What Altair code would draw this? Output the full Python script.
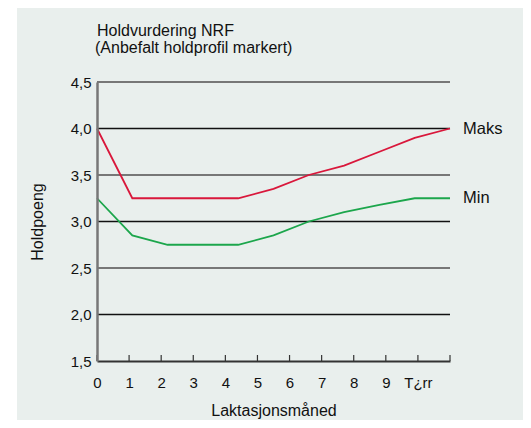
import altair as alt
import pandas as pd

# ---- data ----
months = [0.0, 1.1, 2.2, 3.3, 4.4, 5.5, 6.6, 7.7, 8.8, 9.9, 11.0]
maks = [4.0, 3.25, 3.25, 3.25, 3.25, 3.35, 3.5, 3.6, 3.75, 3.9, 4.0]
mins = [3.25, 2.85, 2.75, 2.75, 2.75, 2.85, 3.0, 3.1, 3.18, 3.25, 3.25]
series_names = ["Maks", "Min"]
series_colors = ["#D9173B", "#1CA64C"]

x_ticks = list(range(12))
x_tick_labels = ["0", "1", "2", "3", "4", "5", "6", "7", "8", "9", "T¿rr", ""]
y_grid = [2.0, 2.5, 3.0, 3.5, 4.0, 4.5]
y_ticks = [1.5, 2.0, 2.5, 3.0, 3.5, 4.0, 4.5]

title_lines = ["Holdvurdering NRF", "(Anbefalt holdprofil markert)"]
x_title = "Laktasjonsmåned"
y_title = "Holdpoeng"

FONT = "Liberation Sans"
BG = "#E9EFED"
W, H = 353, 279
PAD_R, PAD_B = 73, 59

rows = []
for name, vals in zip(series_names, [maks, mins]):
    for m, v in zip(months, vals):
        rows.append({"month": m, "value": v, "series": name})
df = pd.DataFrame(rows)
df_end = pd.DataFrame([
    {"month": months[-1], "value": maks[-1], "series": series_names[0]},
    {"month": months[-1], "value": mins[-1], "series": series_names[1]},
])
df_grid = pd.DataFrame({"value": y_grid})
df_ticks = pd.DataFrame({"month": x_ticks})
df_one = pd.DataFrame({"a": [0]})

xscale = alt.Scale(domain=[0, 11], nice=False, zero=False)
yscale = alt.Scale(domain=[1.5, 4.5], nice=False, zero=False)
cscale = alt.Scale(domain=series_names, range=series_colors)

label_expr_x = "[" + ",".join("'" + s + "'" for s in x_tick_labels) + "][datum.value]"

xaxis = alt.Axis(values=x_ticks, labelExpr=label_expr_x, ticks=False,
                 grid=False, domainColor="#333333", domainWidth=2, zindex=1,
                 labelFont=FONT, labelFontSize=15, labelColor="#111111",
                 labelPadding=14, labelFlush=False, labelOverlap=False,
                 title=x_title, titleFont=FONT, titleFontSize=16,
                 titleFontWeight="normal", titleColor="#111111",
                 titlePadding=12)
yaxis = alt.Axis(values=y_ticks,
                 labelExpr="replace(format(datum.value, '.1f'), '.', ',')",
                 ticks=False, grid=False, domainColor="#777777", domainWidth=2.5, zindex=1,
                 labelFont=FONT, labelFontSize=15, labelColor="#111111",
                 labelPadding=6, labelFlush=False, labelOverlap=False,
                 title=y_title, titleFont=FONT, titleFontSize=16,
                 titleFontWeight="normal", titleColor="#111111",
                 titlePadding=25)

X = alt.X("month:Q", scale=xscale, axis=xaxis)
Y = alt.Y("value:Q", scale=yscale, axis=yaxis)

bg = alt.Chart(df_one).mark_rect(color=BG).encode(
    x=alt.value(-80), x2=alt.value(W + PAD_R),
    y=alt.value(-75), y2=alt.value(H + PAD_B),
)

grid = alt.Chart(df_grid).mark_rule().encode(
    y=Y,
    color=alt.condition("datum.value % 1 == 0", alt.value("#111111"), alt.value("#777777")),
    strokeWidth=alt.condition("datum.value % 1 == 0", alt.value(1.3), alt.value(2.2)),
)

lines = alt.Chart(df).mark_line(strokeWidth=1.8).encode(
    x=X, y=Y,
    color=alt.Color("series:N", scale=cscale, legend=None),
    detail="series:N",
)

ends = alt.Chart(df_end).mark_text(align="left", baseline="middle", dx=13,
                                     font=FONT, fontSize=16.5, color="#111111").encode(
    x=X, y=Y, text="series:N",
)

ticks = alt.Chart(df_ticks).mark_rule(color="#333333", strokeWidth=1.2).encode(
    x=X,
    y=alt.value(H),
    y2=alt.value(H - 6),
)

title1 = alt.Chart(pd.DataFrame({"line": [title_lines[0]]})).mark_text(
    align="left", baseline="alphabetic", font=FONT, fontSize=16, color="#111111"
).encode(x=alt.value(0), y=alt.value(-46), text="line:N")
title2 = alt.Chart(pd.DataFrame({"line": [title_lines[1]]})).mark_text(
    align="left", baseline="alphabetic", font=FONT, fontSize=16, color="#111111"
).encode(x=alt.value(-2), y=alt.value(-29.5), text="line:N")

chart = alt.layer(bg, grid, lines, ticks, ends, title1, title2).properties(
    width=W, height=H,
    autosize="none",
    padding={"left": 89, "top": 74, "right": PAD_R, "bottom": PAD_B},
    background="white",
).configure_view(stroke=None)

chart.save("out.html", embed_options={"renderer": "svg", "actions": False})
